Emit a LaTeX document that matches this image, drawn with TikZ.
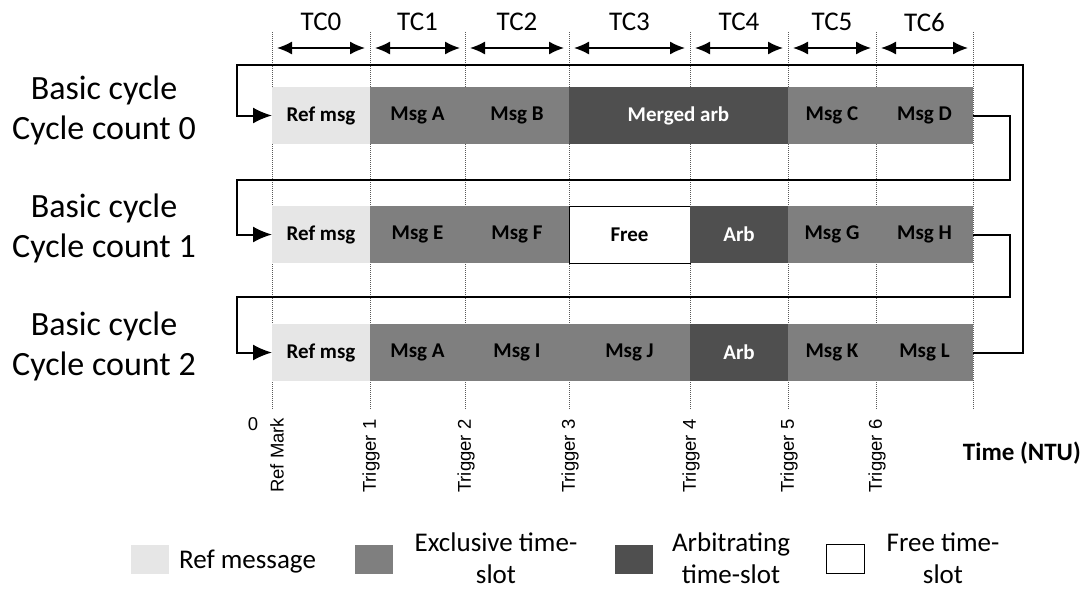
\documentclass[tikz,border=0pt]{standalone}
\usepackage{fontspec}
\setmainfont{Carlito}
\newfontfamily\axisfont{Liberation Sans}
\usetikzlibrary{arrows.meta,calc}

\definecolor{refgray}{HTML}{E6E6E6}
\definecolor{exgray}{HTML}{7F7F7F}
\definecolor{arbgray}{HTML}{4F4F4F}

\begin{document}
\begin{tikzpicture}[x=1pt,y=-1pt,
  slot/.style={rectangle, inner sep=0pt, outer sep=0pt, minimum height=57pt,
    font=\fontsize{21}{24}\selectfont\bfseries},
  refslot/.style={slot, fill=refgray},
  exslot/.style={slot, fill=exgray},
  arbslot/.style={slot, fill=arbgray, text=white},
  freeslot/.style={slot, fill=white, draw=black, line width=1pt},
  conn/.style={line width=2pt, -{Latex[length=19pt,width=16pt]}},
  tcarrow/.style={line width=1.4pt, {Latex[length=15pt,width=13pt]}-{Latex[length=15pt,width=13pt]}},
  gridline/.style={line width=0.6pt, gray!70!black, dash pattern=on 1pt off 1pt},
  tclabel/.style={font=\fontsize{27}{32}\selectfont},
  cyclelabel/.style={font=\fontsize{34}{40}\selectfont, align=center},
  trig/.style={font=\axisfont\fontsize{18.5}{20}\selectfont, rotate=90, anchor=west, inner sep=0pt},
  swatch/.style={rectangle, inner sep=0pt, outer sep=0pt, minimum width=38pt, minimum height=29pt},
  legtext/.style={font=\fontsize{27}{32}\selectfont, align=center, inner sep=0pt}
]
\useasboundingbox (0,0) rectangle (1083,590);

% time-slot boundaries
\foreach \n/\x in {0/272,1/370,2/465,3/569,4/690,5/788,6/876,7/973}{
  \coordinate (b\n) at (\x,48);
  \draw[gridline] (\x,32) -- (\x,410);
}

% transmission columns
\foreach \a/\b/\t in {0/1/TC0,1/2/TC1,2/3/TC2,3/4/TC3,4/5/TC4,5/6/TC5,6/7/TC6}{
  \draw[tcarrow] ([xshift=5pt]b\a) -- ([xshift=-5pt]b\b);
  \node[tclabel] (tc\a) at ($(b\a)!0.5!(b\b)+(0,-26)$) {\t};
}

% row 0
\node[refslot, minimum width=98pt]  (r0c0) at (321,115.5)   {Ref msg};
\node[exslot,  minimum width=95pt]  (r0c1) at (417.5,115.5) {Msg A};
\node[exslot,  minimum width=104pt] (r0c2) at (517,115.5)   {Msg B};
\node[arbslot, minimum width=219pt] (r0c3) at (678.5,115.5) {Merged arb};
\node[exslot,  minimum width=88pt]  (r0c5) at (832,115.5)   {Msg C};
\node[exslot,  minimum width=97pt]  (r0c6) at (924.5,115.5) {Msg D};

% row 1
\node[refslot, minimum width=98pt]  (r1c0) at (321,234.5)   {Ref msg};
\node[exslot,  minimum width=95pt]  (r1c1) at (417.5,234.5) {Msg E};
\node[exslot,  minimum width=104pt] (r1c2) at (517,234.5)   {Msg F};
\node[freeslot,minimum width=121pt] (r1c3) at (629.5,234.5) {Free};
\node[arbslot, minimum width=98pt]  (r1c4) at (739,234.5)   {Arb};
\node[exslot,  minimum width=88pt]  (r1c5) at (832,234.5)   {Msg G};
\node[exslot,  minimum width=97pt]  (r1c6) at (924.5,234.5) {Msg H};

% row 2
\node[refslot, minimum width=98pt]  (r2c0) at (321,352.5)   {Ref msg};
\node[exslot,  minimum width=95pt]  (r2c1) at (417.5,352.5) {Msg A};
\node[exslot,  minimum width=104pt] (r2c2) at (517,352.5)   {Msg I};
\node[exslot,  minimum width=121pt] (r2c3) at (629.5,352.5) {Msg J};
\node[arbslot, minimum width=98pt]  (r2c4) at (739,352.5)   {Arb};
\node[exslot,  minimum width=88pt]  (r2c5) at (832,352.5)   {Msg K};
\node[exslot,  minimum width=97pt]  (r2c6) at (924.5,352.5) {Msg L};

% cycle labels
\node[cyclelabel] (cy0) at (104,110) {Basic cycle\\Cycle count 0};
\node[cyclelabel] (cy1) at (104,228) {Basic cycle\\Cycle count 1};
\node[cyclelabel] (cy2) at (104,346) {Basic cycle\\Cycle count 2};

% wrap-around turning points
\coordinate (w01r) at (1010,180);
\coordinate (w01l) at (237,180);
\coordinate (w12r) at (1010,297);
\coordinate (w12l) at (237,297);
\coordinate (w20r) at (1023,65);
\coordinate (w20l) at (237,65);

\draw[conn] (r0c6.east) -| (w01r) -- (w01l) |- (r1c0.west);
\draw[conn] (r1c6.east) -| (w12r) -- (w12l) |- (r2c0.west);
\draw[conn] (r2c6.east) -| (w20r) -- (w20l) |- (r0c0.west);

% time axis
\node[font=\axisfont\fontsize{18.5}{20}\selectfont] (zero) at (253,424) {0};
\node[trig] (tm0) at (277,493) {Ref Mark};
\node[trig] (tm1) at (371,493) {Trigger 1};
\node[trig] (tm2) at (466,493) {Trigger 2};
\node[trig] (tm3) at (570,493) {Trigger 3};
\node[trig] (tm4) at (691,493) {Trigger 4};
\node[trig] (tm5) at (789,493) {Trigger 5};
\node[trig] (tm6) at (877,493) {Trigger 6};
\node[font=\fontsize{25}{28}\selectfont\bfseries, anchor=base east, inner sep=0pt] (time) at (1081,460) {Time (NTU)};

% legend
\node[swatch, fill=refgray] (lg0) at (150,559) {};
\node[legtext, anchor=base west] (lt0) at (179,568) {Ref message};
\node[swatch, fill=exgray] (lg1) at (374,559) {};
\node[legtext] (lt1) at (496,558) {Exclusive time-\\slot};
\node[swatch, fill=arbgray] (lg2) at (634,559) {};
\node[legtext] (lt2) at (731,558) {Arbitrating\\time-slot};
\node[swatch, fill=white, draw=black, line width=0.8pt] (lg3) at (845.5,559) {};
\node[legtext] (lt3) at (943,558) {Free time-\\slot};
\end{tikzpicture}
\end{document}
